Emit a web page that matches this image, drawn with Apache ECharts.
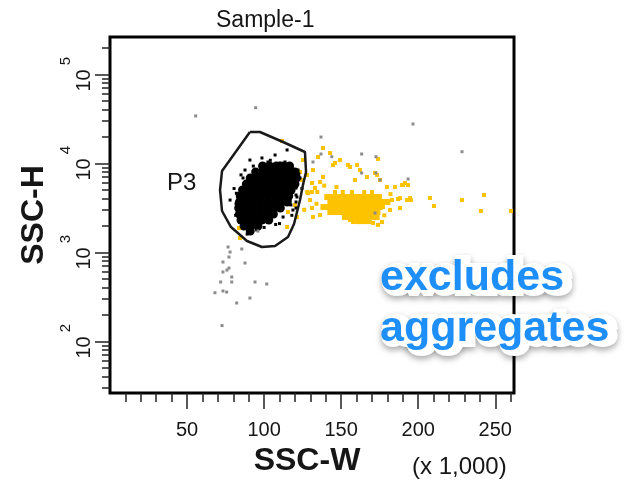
<!DOCTYPE html>
<html>
<head>
<meta charset="utf-8">
<script src="https://cdn.jsdelivr.net/npm/echarts@6/dist/echarts.min.js"></script>
<style>
  html, body { margin: 0; padding: 0; background: #fff; }
  #chart { width: 628px; height: 484px; }
</style>
</head>
<body>
<div id="chart"></div>
<script>
// SSC-W (x 1,000) against SSC-H, log scale
const xMin = 0, xMax = 262.144;
const yMin = 26.2144, yMax = 262144;

const xMajorTicks = [50, 100, 150, 200, 250];
const xMinorTicks = [10, 20, 30, 40, 60, 70, 80, 90, 110, 120, 130, 140, 160, 170, 180, 190, 210, 220, 230, 240, 260];
const yMajorTicks = [100, 1000, 10000, 100000];
const yMinorTicks = [30, 40, 50, 60, 70, 80, 90,
  200, 300, 400, 500, 600, 700, 800, 900,
  2000, 3000, 4000, 5000, 6000, 7000, 8000, 9000,
  20000, 30000, 40000, 50000, 60000, 70000, 80000, 90000,
  200000];

// Dense singlet population (inside P3)
const blackCore = [
  [99, 9310], [103.5, 9310], [108, 9310], [112.5, 9310], [116.5, 9310],
  [94.5, 7970], [99, 7970], [103.5, 7970], [108, 7970], [112.5, 7970], [117, 7970], [120, 7970],
  [91, 6830], [95.5, 6830], [100, 6830], [104.5, 6830], [109, 6830], [113.5, 6830], [118, 6830], [121, 6830],
  [88.5, 5850], [93, 5850], [97.5, 5850], [102, 5850], [106.5, 5850], [111, 5850], [115.5, 5850], [120, 5850],
  [86, 5000], [90.5, 5000], [95, 5000], [99.5, 5000], [104, 5000], [108.5, 5000], [113, 5000], [117.5, 5000],
  [84.5, 4290], [89, 4290], [93.5, 4290], [98, 4290], [102.5, 4290], [107, 4290], [111.5, 4290], [116, 4290],
  [84, 3670], [88.5, 3670], [93, 3670], [97.5, 3670], [102, 3670], [106.5, 3670], [111, 3670], [115, 3670],
  [83.5, 3140], [88, 3140], [92.5, 3140], [97, 3140], [101.5, 3140], [106, 3140], [110.5, 3140],
  [84, 2690], [88.5, 2690], [93, 2690], [97.5, 2690], [102, 2690], [106, 2690],
  [85, 2300], [89.5, 2300], [94, 2300], [98.5, 2300], [103, 2300],
  [87, 1970], [91.5, 1970], [96, 1970],
  [91, 1730]
];

// Scattered singlet events around the core
const blackSparse = [
  [87.6, 8390], [86.3, 6830], [99.3, 8390], [102.5, 10330], [110.3, 10070], [113.6, 10330],
  [118.1, 9080], [122, 8390], [123.3, 6830], [121.3, 4175], [118.7, 2980], [116.8, 3860],
  [112.3, 2490], [101.9, 2300], [96, 2300], [86.3, 1921], [77.9, 3860], [92.1, 1780],
  [107.1, 2620], [117.4, 5700], [117.4, 5000], [117.4, 4400], [117.4, 3400], [120.7, 5270],
  [120.7, 4400], [120.7, 3670], [120.7, 3140], [95.2, 1780], [98.6, 11460], [107.1, 12380],
  [90.8, 10870], [114.9, 14100], [80.5, 5200], [81.5, 2600], [124.5, 5200], [110, 2100],
  [82, 4600], [81.8, 3500], [85, 7400], [93, 9300], [104, 10800], [122.5, 7600], [118, 2600],
  [107.5, 2050], [100, 1900], [89, 1600]
];

// Aggregates (wide events)
const yellowCore = [
  [141, 4175], [144.5, 4175], [148, 4175], [151, 4175], [154.5, 4175], [158, 4175], [161, 4175], [164.5, 4175], [168, 4175], [171, 4175], [174.5, 4175],
  [143, 3670], [146.5, 3670], [150, 3670], [153, 3670], [156.5, 3670], [160, 3670], [163, 3670], [166.5, 3670], [170, 3670], [173, 3670], [176.5, 3670], [180, 3670],
  [138.5, 3220], [142, 3220], [145.5, 3220], [149, 3220], [152, 3220], [155.5, 3220], [159, 3220], [162, 3220], [165.5, 3220], [169, 3220], [172, 3220], [175, 3220],
  [143, 2830], [146.5, 2830], [150, 2830], [153.5, 2830], [157, 2830], [160, 2830], [163.5, 2830], [167, 2830], [170, 2830], [173.5, 2830],
  [152.5, 2490], [156, 2490], [159.5, 2490], [163, 2490], [166, 2490], [169.5, 2490], [173, 2490],
  [161, 2240], [164.5, 2240], [168, 2240]
];

const yellowSparse = [
  [128, 4750], [131, 4750], [134.5, 4750], [146, 4750], [151, 4750], [157, 4750], [165, 4750], [170, 4750],
  [113.6, 9550], [138.2, 14840], [131.7, 8390], [127.8, 7380], [131.1, 6000], [136.3, 6150],
  [138.2, 7010], [144.7, 9550], [149.2, 10870], [154.4, 9550], [160.3, 9550], [162.2, 8390],
  [159, 6480], [166.8, 7010], [172, 7770], [175.2, 6480], [179.7, 5410], [184.9, 5410],
  [191.4, 6000], [193.4, 5700], [188.2, 4065], [192.7, 3860], [194.7, 4065], [177.2, 3220],
  [181.7, 2980], [176.5, 2186], [170.7, 2131], [162.2, 2426], [155.7, 2300], [136.3, 2620],
  [131.7, 2490], [131.1, 3140], [128.5, 4630], [133, 5270], [129.8, 3860], [124.6, 6480],
  [123.3, 7970], [125.2, 10870], [135, 11760], [142.8, 13030], [118.7, 7770], [120, 3400],
  [121.3, 2490], [114.9, 1921], [195.3, 3860], [207.6, 4065], [210.2, 3310], [228.4, 3860],
  [242.7, 4400], [240.7, 2907], [260.2, 2907], [188.2, 3140], [190.1, 5700], [183, 3860],
  [186.9, 3965], [173.9, 11160], [155.7, 9080], [146, 10070], [173.3, 7380], [189.5, 5700],
  [173.9, 2030], [157.7, 2186], [111.6, 17800], [121.3, 6000], [115.5, 2830], [83.7, 1872],
  [84.4, 1446], [126, 3000], [134, 3500], [139, 5600], [147, 5400], [182, 4500], [178, 2600]
];

// Debris and outlier events
const grayEvents = [
  [55.6, 34000], [94.5, 42100], [196.6, 27600], [228.4, 13480], [136.9, 19700], [136.9, 12700],
  [143.9, 11840], [163.3, 12700], [172.6, 11840], [163.3, 7770], [172.6, 7770], [175.2, 6480],
  [193.4, 6650], [172, 2756], [131.7, 10330],
  [85.5, 1088], [87.6, 757], [76.6, 1145], [77.9, 1006], [77.2, 884], [73.3, 777], [73.3, 600],
  [75.9, 631], [77.2, 665], [79, 527], [79, 463], [71.8, 463], [68.1, 351], [73.3, 367],
  [75.7, 357], [94.1, 463], [101.7, 440], [82.2, 269], [90.8, 306], [72.7, 150], [96, 1730]
];

// P3 gate outline
const gateX = [90.8, 97.3, 112.3, 126.5, 127.2, 125.2, 123.3, 119.4, 115.5, 107.1, 98.6, 88.9, 78.5, 72.7, 71.4, 72.7, 90.8];
const gateY = [22440, 22440, 17330, 13380, 7970, 5700, 3860, 2077, 1484, 1176, 1145, 1338, 1921, 2907, 5000, 8185, 22440];

const FONT = '"Liberation Sans", Arial, sans-serif';
const TEXT = '#161616';

const chart = echarts.init(document.getElementById('chart'), null, { renderer: 'canvas' });

const dotSeries = (name, data, color, size, symbol) => ({
  name, type: 'scatter', data, symbol: symbol || 'rect', symbolSize: size,
  itemStyle: { color, opacity: 1 }, silent: true, xAxisIndex: 0, yAxisIndex: 0
});

chart.setOption({
  animation: false,
  backgroundColor: '#fff',
  title: {
    text: 'Sample-1', left: 216, top: 9, padding: 0,
    textStyle: { fontFamily: FONT, fontSize: 23, fontWeight: 'normal', color: TEXT }
  },
  grid: {
    left: 110, top: 37, right: 114, bottom: 91,
    show: true, borderColor: '#000', borderWidth: 3, containLabel: false
  },
  xAxis: [
    {
      type: 'value', min: xMin, max: xMax,
      name: 'SSC-W', nameLocation: 'middle', nameGap: 50,
      nameTextStyle: { fontFamily: FONT, fontSize: 32, fontWeight: 'bold', color: TEXT, padding: [0, 10, 0, 0] },
      axisLine: { show: false },
      splitLine: { show: false },
      axisTick: { show: true, customValues: xMajorTicks, length: 16, lineStyle: { color: '#222', width: 1.5 } },
      axisLabel: { show: true, customValues: xMajorTicks, margin: 27, fontFamily: FONT, fontSize: 20, color: TEXT }
    },
    {
      type: 'value', min: xMin, max: xMax, position: 'bottom',
      axisLine: { show: false }, splitLine: { show: false },
      axisTick: { show: true, customValues: xMinorTicks, length: 9, lineStyle: { color: '#222', width: 1.5 } },
      axisLabel: { show: false }
    }
  ],
  yAxis: [
    {
      type: 'log', logBase: 10, min: yMin, max: yMax,
      name: 'SSC-H', nameLocation: 'middle', nameGap: 45, nameRotate: 90,
      nameTextStyle: { fontFamily: FONT, fontSize: 32, fontWeight: 'bold', color: TEXT },
      axisLine: { show: false },
      splitLine: { show: false },
      axisTick: { show: true, customValues: yMajorTicks, length: 15, lineStyle: { color: '#222', width: 1.5 } },
      axisLabel: {
        show: true, customValues: yMajorTicks, rotate: 90, margin: 16,
        formatter: (v) => '{b|10}{s|' + Math.round(Math.log10(v)) + '}',
        rich: {
          b: { fontFamily: FONT, fontSize: 20, lineHeight: 22, color: TEXT, verticalAlign: 'bottom' },
          s: { fontFamily: FONT, fontSize: 15, lineHeight: 15, color: TEXT, verticalAlign: 'bottom', padding: [0, 0, 21, 4] }
        }
      }
    },
    {
      type: 'log', logBase: 10, min: yMin, max: yMax, position: 'left',
      axisLine: { show: false }, splitLine: { show: false },
      axisTick: { show: true, customValues: yMinorTicks, length: 8, lineStyle: { color: '#222', width: 1.5 } },
      axisLabel: { show: false }
    }
  ],
  graphic: [
    {
      type: 'text', left: 167, top: 171, silent: true,
      style: { text: 'P3', font: '24px ' + FONT, fill: TEXT }
    },
    {
      type: 'text', left: 412, top: 455, silent: true,
      style: { text: '(x 1,000)', font: '24px ' + FONT, fill: TEXT }
    },
    // white halo with a soft drop shadow behind the annotation
    {
      type: 'text', left: 380, top: 253, z: 100, silent: true,
      style: {
        text: 'excludes\naggregates', font: 'bold 43px ' + FONT, lineHeight: 51,
        fill: 'none', stroke: '#ffffff', lineWidth: 10,
        textShadowBlur: 6, textShadowColor: 'rgba(0,0,0,0.35)', textShadowOffsetY: 3
      }
    },
    {
      type: 'text', left: 380, top: 253, z: 101, silent: true,
      style: { text: 'excludes\naggregates', font: 'bold 43px ' + FONT, lineHeight: 51, fill: '#1e8ff8' }
    }
  ],
  series: [
    dotSeries('aggregates', yellowCore, '#fdc300', 6),
    dotSeries('aggregates-sparse', yellowSparse, '#fdc300', 4),
    dotSeries('singlets', blackCore, '#000', 9, 'circle'),
    dotSeries('singlets-sparse', blackSparse, '#000', 3),
    dotSeries('debris', grayEvents, '#8c8c8c', 3),
    {
      name: 'P3', type: 'line', silent: true, xAxisIndex: 0, yAxisIndex: 0,
      data: gateX.map((x, i) => [x, gateY[i]]),
      showSymbol: false, symbol: 'none', smooth: false, z: 5,
      lineStyle: { color: '#1a1a1a', width: 2.5 }
    }
  ]
});
</script>
</body>
</html>
